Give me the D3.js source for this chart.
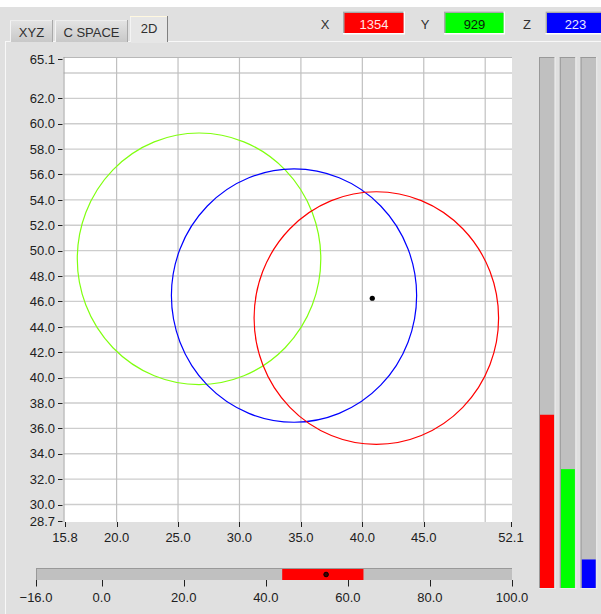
<!DOCTYPE html>
<html><head><meta charset="utf-8">
<script src="https://cdn.jsdelivr.net/npm/d3@7"></script>
<style>
body{margin:0;background:#e0e0e0;overflow:hidden}
text{font-family:"Liberation Sans",Arial,sans-serif;font-size:13px}
</style>
</head><body><svg id="c" width="601" height="614"></svg>
<script>
// ---- data ----
const tabNames = ["XYZ", "C SPACE", "2D"];
const channelLabels = ["X", "Y", "Z"];
const channelValues = [1354, 929, 223];
const channelColors = ["#ff0000", "#00ff00", "#0000ff"];
const channelTextColors = ["#ffe4e4", "#0a200a", "#e8e8ff"];
const channelMax = 4150;

const xDomain = [15.8, 52.1];
const yDomain = [28.7, 65.1];
const xTicks = [15.8, 20, 25, 30, 35, 40, 45, 52.1];
const xGrid = [20, 25, 30, 35, 40, 45, 50];
const yTicks = [28.7, 30, 32, 34, 36, 38, 40, 42, 44, 46, 48, 50, 52, 54, 56, 58, 60, 62, 65.1];
const yGrid = [30, 32, 34, 36, 38, 40, 42, 44, 46, 48, 50, 52, 54, 56, 58, 60, 62, 64];

const circleCX = [26.71, 34.44, 41.14];
const circleCY = [49.36, 46.46, 44.69];
const circleR = [9.91, 9.98, 9.95];
const circleColors = ["#80ff10", "#0000ff", "#ff0000"];

const pointX = [40.81];
const pointY = [46.25];

const sliderDomain = [-16, 100];
const sliderTicks = [-16, 0, 20, 40, 60, 80, 100];
const sliderBand = [44.0, 63.8];
const sliderValue = [54.7];

// ---- drawing ----
const svg = d3.select("#c");
const fmt = d3.format(".1f");

svg.append("rect").attr("width", 601).attr("height", 614).attr("fill", "#e0e0e0");
svg.append("rect").attr("width", 601).attr("height", 7).attr("fill", "#ffffff");

// panel borders
svg.append("line").attr("x1", 5).attr("x2", 601).attr("y1", 41.5).attr("y2", 41.5).attr("stroke", "#f8f8f8");
svg.append("line").attr("x1", 5.5).attr("x2", 5.5).attr("y1", 41.5).attr("y2", 614).attr("stroke", "#f8f8f8");

// tabs
const defs = svg.append("defs");
const g1 = defs.append("linearGradient").attr("id", "tabg").attr("x1", 0).attr("x2", 0).attr("y1", 0).attr("y2", 1);
g1.append("stop").attr("offset", "0%").attr("stop-color", "#e4e4e4");
g1.append("stop").attr("offset", "100%").attr("stop-color", "#c8c8c8");
const tabX = [10, 55, 130];
const tabW = [43, 73, 38];
tabNames.forEach((t, i) => {
  const sel = i === 2;
  const top = sel ? 16 : 20;
  const g = svg.append("g");
  g.append("rect").attr("x", tabX[i]).attr("y", top).attr("width", tabW[i]).attr("height", 42 - top)
    .attr("fill", sel ? "#e6e6e6" : "url(#tabg)");
  g.append("line").attr("x1", tabX[i] + 0.5).attr("x2", tabX[i] + 0.5).attr("y1", top).attr("y2", 42).attr("stroke", "#f4f4f4");
  g.append("line").attr("x1", tabX[i]).attr("x2", tabX[i] + tabW[i]).attr("y1", top + 0.5).attr("y2", top + 0.5).attr("stroke", sel ? "#fff8e0" : "#eeeeee");
  g.append("line").attr("x1", tabX[i] + tabW[i] - 0.5).attr("x2", tabX[i] + tabW[i] - 0.5).attr("y1", top).attr("y2", 42).attr("stroke", sel ? "#808080" : "#a8a8a8");
  g.append("text").attr("x", tabX[i] + tabW[i] / 2).attr("y", sel ? 33.3 : 37).attr("text-anchor", "middle")
    .attr("fill", "#303030").text(t);
});
// selected tab merges into panel
svg.append("rect").attr("x", 131).attr("y", 40).attr("width", 36).attr("height", 3).attr("fill", "#e6e6e6");

// channel value boxes
const labelX = [325, 425, 527];
const boxX = [343, 444, 545.5];
const boxW = [62, 61, 60];
channelLabels.forEach((l, i) => {
  svg.append("text").attr("x", labelX[i]).attr("y", 29).attr("text-anchor", "middle").attr("fill", "#303030").text(l);
  svg.append("rect").attr("x", boxX[i]).attr("y", 11.5).attr("width", boxW[i]).attr("height", 23).attr("fill", "#ffffff");
  svg.append("rect").attr("x", boxX[i]).attr("y", 11.5).attr("width", boxW[i] - 1.5).attr("height", 21.5).attr("fill", "#a8a8a8");
  svg.append("rect").attr("x", boxX[i] + 1.5).attr("y", 13).attr("width", boxW[i] - 3).attr("height", 20).attr("fill", channelColors[i]);
  svg.append("text").attr("x", boxX[i] + boxW[i] / 2).attr("y", 29).attr("text-anchor", "middle")
    .attr("fill", channelTextColors[i]).text(channelValues[i]);
});

// main plot
const x = d3.scaleLinear().domain(xDomain).range([65, 511]);
const y = d3.scaleLinear().domain(yDomain).range([521, 59]);
const plotL = 63.5, plotR = 512, plotT = 57, plotB = 522;
svg.append("rect").attr("x", plotL).attr("y", plotT).attr("width", plotR - plotL).attr("height", plotB - plotT).attr("fill", "#ffffff");

const grid = svg.append("g");
grid.selectAll(".hg").data(yGrid).join("line")
  .attr("x1", plotL).attr("x2", plotR).attr("y1", d => y(d)).attr("y2", d => y(d))
  .attr("stroke", "#cdcdcd").attr("stroke-width", 1.4);
grid.selectAll(".vg").data(xGrid).join("line")
  .attr("x1", d => x(d)).attr("x2", d => x(d)).attr("y1", plotT).attr("y2", plotB)
  .attr("stroke", "#c0c0c0").attr("stroke-width", 1.2);
svg.append("line").attr("x1", plotL).attr("x2", plotR).attr("y1", plotT + 0.5).attr("y2", plotT + 0.5).attr("stroke", "#b8b8b8");
svg.append("line").attr("x1", plotL + 0.5).attr("x2", plotL + 0.5).attr("y1", plotT).attr("y2", plotB).attr("stroke", "#a0a0a0");

// axes
const yAxis = svg.append("g");
yAxis.selectAll("line").data(yTicks).join("line")
  .attr("x1", 58).attr("x2", 62.5).attr("y1", d => Math.round(y(d)) + 0.5).attr("y2", d => Math.round(y(d)) + 0.5)
  .attr("stroke", "#202020");
yAxis.selectAll("text").data(yTicks).join("text")
  .attr("x", 55).attr("y", d => y(d) + 4.7).attr("text-anchor", "end").attr("fill", "#202020").text(d => fmt(d));

const xAxis = svg.append("g");
xAxis.selectAll("line").data(xTicks).join("line")
  .attr("x1", d => Math.round(x(d)) + 0.5).attr("x2", d => Math.round(x(d)) + 0.5).attr("y1", 522).attr("y2", 527)
  .attr("stroke", "#202020");
xAxis.selectAll("text").data(xTicks).join("text")
  .attr("x", d => x(d)).attr("y", 542).attr("text-anchor", "middle").attr("fill", "#202020").text(d => fmt(d));

// circles
const clip = defs.append("clipPath").attr("id", "pc");
clip.append("rect").attr("x", plotL).attr("y", plotT).attr("width", plotR - plotL).attr("height", plotB - plotT);
const cg = svg.append("g").attr("clip-path", "url(#pc)");
cg.selectAll("ellipse").data(circleCX.map((c, i) => i)).join("ellipse")
  .attr("cx", i => x(circleCX[i])).attr("cy", i => y(circleCY[i]))
  .attr("rx", i => x(circleCX[i] + circleR[i]) - x(circleCX[i]))
  .attr("ry", i => y(circleCY[i]) - y(circleCY[i] + circleR[i]))
  .attr("fill", "none").attr("stroke", i => circleColors[i]).attr("stroke-width", 1.2);
cg.selectAll(".pt").data(pointX.map((p, i) => i)).join("circle")
  .attr("cx", i => x(pointX[i])).attr("cy", i => y(pointY[i])).attr("r", 2.6).attr("fill", "#000");

// right bars
const bx = d3.scaleBand().domain(channelLabels).range([539, 596.2]).paddingInner(0.25).paddingOuter(0);
const by = d3.scaleLinear().domain([0, channelMax]).range([588, 57]);
channelLabels.forEach((l, i) => {
  const x0 = bx(l), w = bx.bandwidth();
  svg.append("rect").attr("x", x0).attr("y", 57).attr("width", w).attr("height", 531).attr("fill", "#c0c0c0");
  svg.append("rect").attr("x", x0 + 1).attr("y", by(channelValues[i])).attr("width", w - 1.5)
    .attr("height", by(0) - by(channelValues[i])).attr("fill", channelColors[i]);
  svg.append("line").attr("x1", x0 + 0.5).attr("x2", x0 + 0.5).attr("y1", 57).attr("y2", 588).attr("stroke", "#999999");
  svg.append("line").attr("x1", x0).attr("x2", x0 + w).attr("y1", 57.5).attr("y2", 57.5).attr("stroke", "#999999");
  svg.append("line").attr("x1", x0 + w + 0.5).attr("x2", x0 + w + 0.5).attr("y1", 57).attr("y2", 589).attr("stroke", "#ececec");
  svg.append("line").attr("x1", x0).attr("x2", x0 + w + 1).attr("y1", 588.5).attr("y2", 588.5).attr("stroke", "#ececec");
});

// bottom slider
const sx = d3.scaleLinear().domain(sliderDomain).range([36, 512]);
svg.append("rect").attr("x", 36).attr("y", 568).attr("width", 476).attr("height", 12).attr("fill", "#c0c0c0");
svg.append("rect").attr("x", sx(sliderBand[0])).attr("y", 569).attr("width", sx(sliderBand[1]) - sx(sliderBand[0]))
  .attr("height", 11).attr("fill", "#ff0000");
svg.append("line").attr("x1", 36).attr("x2", 512).attr("y1", 568.5).attr("y2", 568.5).attr("stroke", "#999999");
svg.append("line").attr("x1", 36.5).attr("x2", 36.5).attr("y1", 568).attr("y2", 580).attr("stroke", "#999999");
svg.selectAll(".sv").data(sliderValue).join("circle")
  .attr("cx", d => sx(d)).attr("cy", 574.5).attr("r", 2.3).attr("fill", "#400000").attr("stroke", "#000").attr("stroke-width", 1);
const sAxis = svg.append("g");
sAxis.selectAll("line").data(sliderTicks).join("line")
  .attr("x1", d => Math.round(sx(d)) + 0.5).attr("x2", d => Math.round(sx(d)) + 0.5).attr("y1", 580).attr("y2", 586.5)
  .attr("stroke", "#202020");
sAxis.selectAll("text").data(sliderTicks).join("text")
  .attr("x", d => sx(d)).attr("y", 601.5).attr("text-anchor", "middle").attr("fill", "#202020").text(d => fmt(d));
</script>
</body></html>
